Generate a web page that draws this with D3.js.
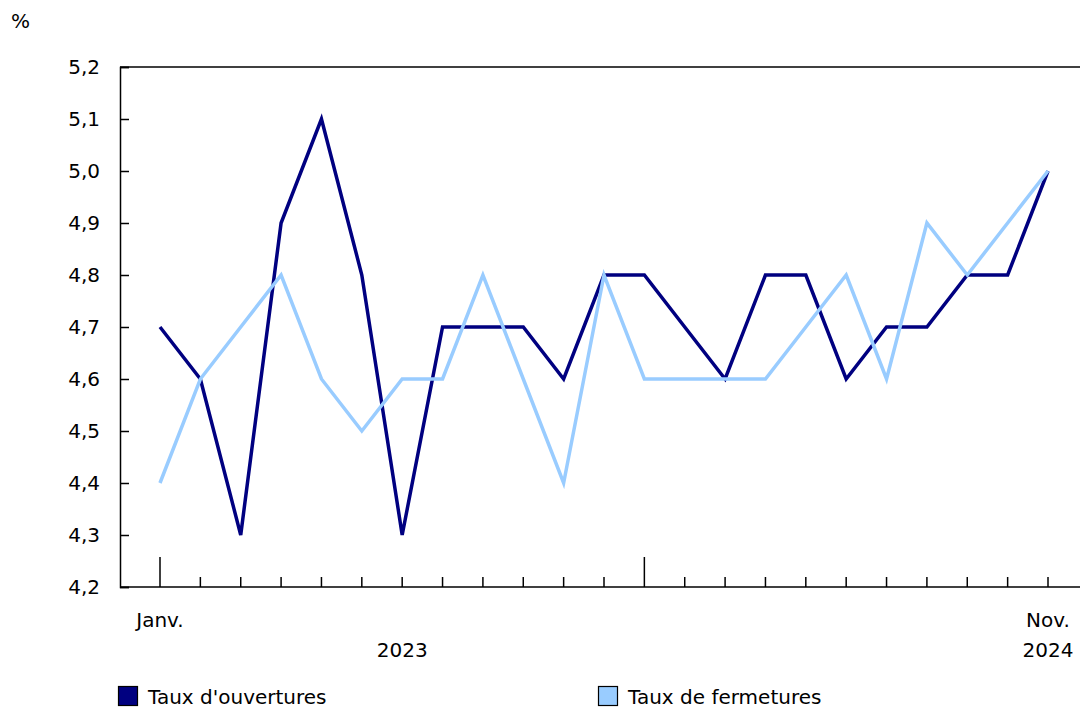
<!doctype html>
<html lang="fr">
<head>
<meta charset="utf-8">
<style>
  body { margin: 0; background: #fff; }
  text { font-family: "DejaVu Sans", Verdana, sans-serif; font-size: 20px; fill: #000; }
</style>
</head>
<body>
<script src="https://d3js.org/d3.v7.min.js"></script>
<div id="chart"></div>
<script>
// months from Jan 2023 to Nov 2024
var months = ["2023-01","2023-02","2023-03","2023-04","2023-05","2023-06","2023-07","2023-08","2023-09","2023-10","2023-11","2023-12",
              "2024-01","2024-02","2024-03","2024-04","2024-05","2024-06","2024-07","2024-08","2024-09","2024-10","2024-11"];
var ouvertures = [4.7,4.6,4.3,4.9,5.1,4.8,4.3,4.7,4.7,4.7,4.6,4.8,4.8,4.7,4.6,4.8,4.8,4.6,4.7,4.7,4.8,4.8,5.0];
var fermetures = [4.4,4.6,4.7,4.8,4.6,4.5,4.6,4.6,4.8,4.6,4.4,4.8,4.6,4.6,4.6,4.6,4.7,4.8,4.6,4.9,4.8,4.9,5.0];
var yTicks = [4.2,4.3,4.4,4.5,4.6,4.7,4.8,4.9,5.0,5.1,5.2];
var seriesNames = ["Taux d'ouvertures","Taux de fermetures"];
var seriesColors = ["#000080","#99ccff"];

var width = 1081, height = 711;
var svg = d3.select("#chart").append("svg")
            .attr("width", width).attr("height", height);

var x = d3.scalePoint().domain(months).range([160, 1048]);
var y = d3.scaleLinear().domain([4.2, 5.2]).range([587, 67]);
var fmt = function(d){ return d.toFixed(1).replace(".", ","); };

// top border
svg.append("line").attr("x1", 120).attr("x2", 1080).attr("y1", y(5.2)).attr("y2", y(5.2))
   .attr("stroke", "#000").attr("stroke-width", 1.5);

// y axis
var yAxis = svg.append("g").attr("transform", "translate(120,0)")
   .call(d3.axisRight(y).tickValues(yTicks).tickFormat("").tickSize(9));
yAxis.select(".domain").attr("stroke-width", 1.5);
yAxis.selectAll(".tick line").attr("stroke-width", 1.5);
svg.selectAll(".ylab").data(yTicks).enter().append("text")
   .attr("x", 100).attr("y", function(d){ return y(d); })
   .attr("dy", "0.35em").attr("text-anchor", "end").text(fmt);

// x axis baseline and ticks
svg.append("line").attr("x1", 120).attr("x2", 1080).attr("y1", 587).attr("y2", 587)
   .attr("stroke", "#000").attr("stroke-width", 1.5);
svg.selectAll(".xtick").data(months).enter().append("line")
   .attr("x1", function(d){ return x(d); }).attr("x2", function(d){ return x(d); })
   .attr("y1", 587)
   .attr("y2", function(d){ return d.slice(5) === "01" ? 557 : 577; })
   .attr("stroke", "#000").attr("stroke-width", 1.5);

svg.append("text").attr("x", x("2023-01")).attr("y", 627).attr("text-anchor", "middle").text("Janv.");
svg.append("text").attr("x", (x("2023-01") + x("2024-01")) / 2).attr("y", 657).attr("text-anchor", "middle").text("2023");
svg.append("text").attr("x", x("2024-11")).attr("y", 627).attr("text-anchor", "middle").text("Nov.");
svg.append("text").attr("x", x("2024-11")).attr("y", 657).attr("text-anchor", "middle").text("2024");

svg.append("text").attr("x", 11).attr("y", 28).text("%");

// lines
var line = d3.line()
  .x(function(d, i){ return x(months[i]); })
  .y(function(d){ return y(d); });
[ouvertures, fermetures].forEach(function(s, k){
  svg.append("path").datum(s).attr("d", line)
     .attr("fill", "none").attr("stroke", seriesColors[k])
     .attr("stroke-width", 3.5).attr("stroke-linejoin", "miter");
});

// legend
var legX = [118, 598];
seriesNames.forEach(function(n, k){
  svg.append("rect").attr("x", legX[k] + 0.5).attr("y", 686.5).attr("width", 19).attr("height", 19)
     .attr("fill", seriesColors[k]).attr("stroke", "#000").attr("stroke-width", 1.2);
  svg.append("text").attr("x", legX[k] + 30).attr("y", 704).text(n);
});
</script>
</body>
</html>
